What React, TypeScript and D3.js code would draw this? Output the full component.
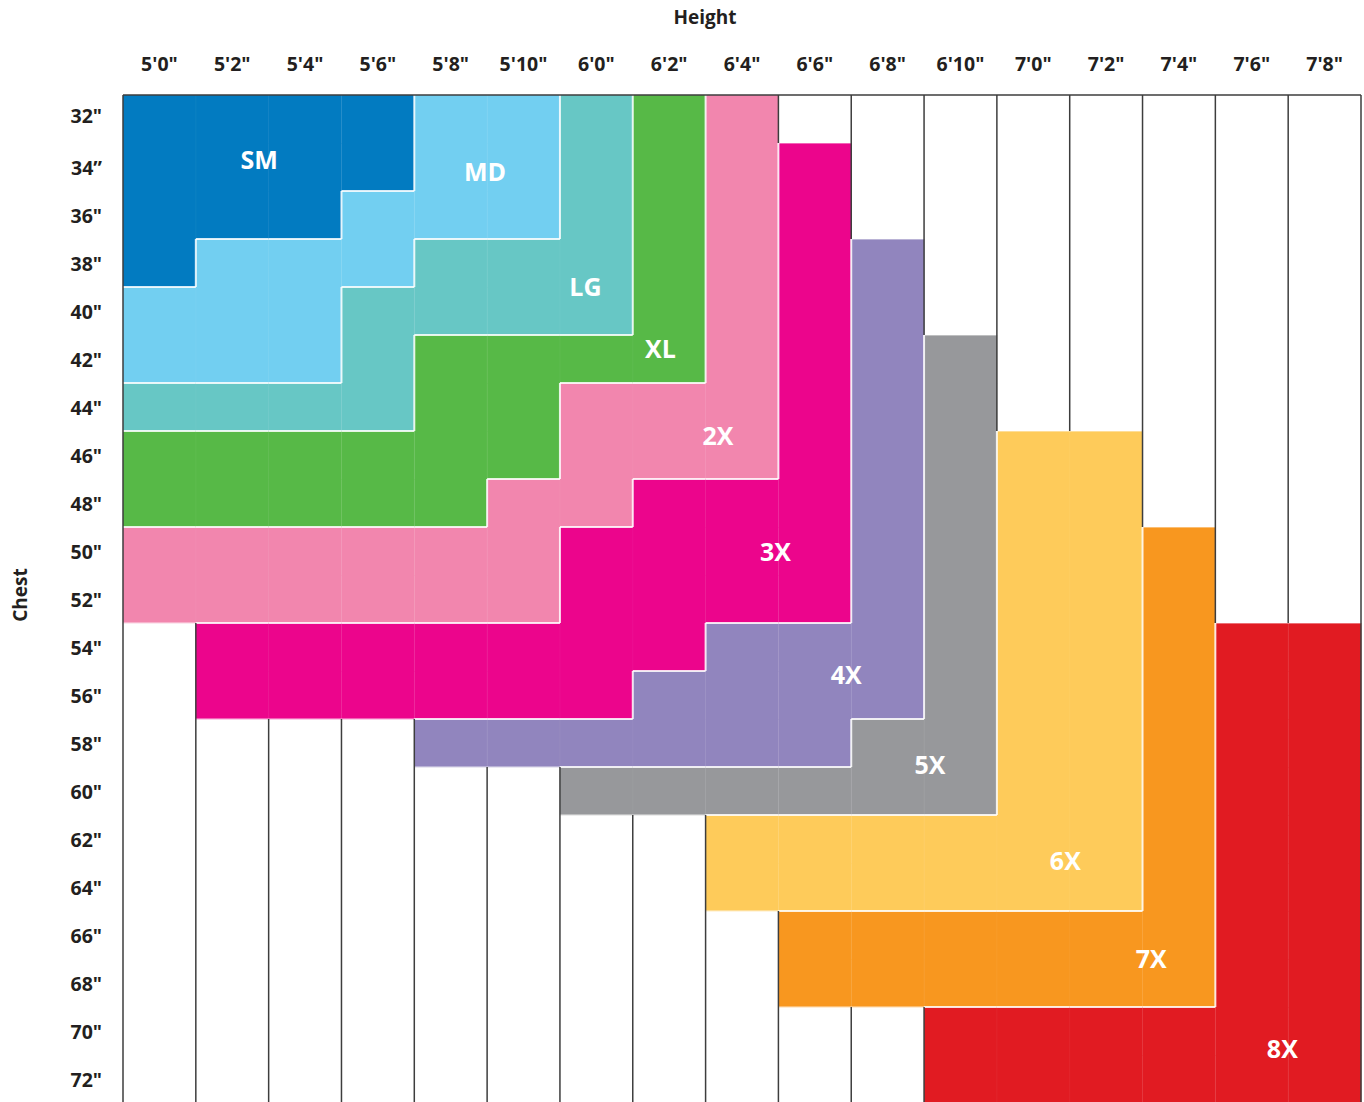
import React from 'react';
import * as d3 from 'd3';

const heights = ["5'0\"", "5'2\"", "5'4\"", "5'6\"", "5'8\"", "5'10\"", "6'0\"", "6'2\"", "6'4\"", "6'6\"", "6'8\"", "6'10\"", "7'0\"", "7'2\"", "7'4\"", "7'6\"", "7'8\""];
const chests = ['32"', '34\u201D', '36"', '38"', '40"', '42"', '44"', '46"', '48"', '50"', '52"', '54"', '56"', '58"', '60"', '62"', '64"', '66"', '68"', '70"', '72"'];

const sizeNames = ['SM', 'MD', 'LG', 'XL', '2X', '3X', '4X', '5X', '6X', '7X', '8X'];
const sizeCodes = ['S', 'M', 'L', 'X', '2', '3', '4', '5', '6', '7', '8'];
const sizeColors = ['#027BC1', '#72CFF1', '#67C7C5', '#57B947', '#F286AE', '#EC058C', '#9185BE', '#97989B', '#FECB5A', '#F8971F', '#E11B22'];

// one string per chest row, one char per height column ('.' = no size)
const sizeGrid = [
  'SSSSMMLX2........',
  'SSSSMMLX23.......',
  'SSSMMMLX23.......',
  'SMMMLLLX234......',
  'MMMLLLLX234......',
  'MMMLXXXX2345.....',
  'LLLLXX222345.....',
  'XXXXXX22234566...',
  'XXXXX223334566...',
  '222222333345667..',
  '222222333345667..',
  '.3333333444566788',
  '.3333334444566788',
  '....4444445566788',
  '......55555566788',
  '........666666788',
  '........666666788',
  '.........77777788',
  '.........77777788',
  '...........888888',
  '...........888888',
];

// label anchor positions in grid units (column, row)
const labelCol = [1.87, 4.97, 6.35, 7.38, 8.17, 8.96, 9.93, 11.08, 12.94, 14.12, 15.92];
const labelRow = [1.35, 1.6, 4.0, 5.29, 7.1, 9.52, 12.08, 13.96, 15.96, 18.0, 19.875];

const FONT = "'Open Sans', 'Noto Sans', sans-serif";

export default function App() {
  const left = 123, right = 1361, top = 95, bottom = 1103;
  const x = d3.scaleBand<string>().domain(heights).range([left, right]);
  const y = d3.scaleBand<string>().domain(chests).range([top, bottom]);
  const gx = d3.scaleLinear().domain([0, heights.length]).range([left, right]);
  const gy = d3.scaleLinear().domain([0, chests.length]).range([top, bottom]);
  const colorOf = (code: string) => sizeColors[sizeCodes.indexOf(code)];
  const cell = (r: number, c: number) => (r < 0 || r >= chests.length || c < 0 || c >= heights.length) ? '.' : sizeGrid[r][c];

  const cells: JSX.Element[] = [];
  sizeGrid.forEach((row, r) => {
    row.split('').forEach((code, c) => {
      if (code === '.') return;
      cells.push(<rect key={`c${r}-${c}`} x={x(heights[c])} y={y(chests[r])} width={x.bandwidth() + 0.3} height={y.bandwidth() + 0.3} fill={colorOf(code)} />);
    });
  });

  const faint: JSX.Element[] = [];
  const white: JSX.Element[] = [];
  const dark: JSX.Element[] = [];
  // vertical boundaries
  for (let r = 0; r < chests.length; r++) {
    for (let c = 0; c <= heights.length; c++) {
      const a = cell(r, c - 1), b = cell(r, c);
      const xx = gx(c);
      const y0 = gy(r), y1 = gy(r + 1);
      const k = `v${r}-${c}`;
      if (a === '.' || b === '.') dark.push(<line key={k} x1={xx} x2={xx} y1={y0} y2={y1} stroke="#3d3d3d" strokeWidth={1.5} />);
      else if (a !== b) white.push(<line key={k} x1={xx} x2={xx} y1={y0} y2={y1} stroke="#ffffff" strokeOpacity={0.85} strokeWidth={2} />);
      else faint.push(<line key={k} x1={xx} x2={xx} y1={y0} y2={y1} stroke="#ffffff" strokeOpacity={0.05} strokeWidth={1} />);
    }
  }
  // horizontal boundaries
  for (let r = 1; r < chests.length; r++) {
    for (let c = 0; c < heights.length; c++) {
      const a = cell(r - 1, c), b = cell(r, c);
      const yy = gy(r);
      const x0 = gx(c), x1 = gx(c + 1);
      const k = `h${r}-${c}`;
      if (a === '.' && b === '.') continue;
      if (a === '.' || b === '.') white.push(<line key={k} x1={x0} x2={x1} y1={yy} y2={yy} stroke="#ffffff" strokeOpacity={0.5} strokeWidth={1.5} />);
      else if (a !== b) white.push(<line key={k} x1={x0} x2={x1} y1={yy} y2={yy} stroke="#ffffff" strokeOpacity={0.85} strokeWidth={2} />);
    }
  }

  return (
    <svg width={1364} height={1102} style={{ position: 'absolute', left: 0, top: 0, background: '#fff' }} fontFamily={FONT}>
      {cells}
      {faint}
      {white}
      {dark}
      <line x1={left} x2={right} y1={top} y2={top} stroke="#3d3d3d" strokeWidth={1.5} />
      {sizeNames.map((s, i) => (
        <text key={s} x={gx(labelCol[i])} y={gy(labelRow[i])} dy="0.36em" textAnchor="middle" fill="#fff" fontSize={25} fontWeight={700}>{s}</text>
      ))}
      <text x={705} y={17} dy="0.36em" textAnchor="middle" fill="#231F20" fontSize={19} fontWeight={700}>Height</text>
      {heights.map(h => (
        <text key={h} x={x(h)! + x.bandwidth() / 2} y={64} dy="0.36em" textAnchor="middle" fill="#231F20" fontSize={19.5} fontWeight={700}>{h}</text>
      ))}
      {chests.map((ch, i) => (
        <text key={ch} x={102} y={y(ch)! + y.bandwidth() / 2 + (i === 0 ? -3.5 : 0.5)} dy="0.36em" textAnchor="end" fill="#231F20" fontSize={19.5} fontWeight={700}>{ch}</text>
      ))}
      <text transform="translate(20,595) rotate(-90)" dy="0.36em" textAnchor="middle" fill="#231F20" fontSize={19} fontWeight={700}>Chest</text>
    </svg>
  );
}
